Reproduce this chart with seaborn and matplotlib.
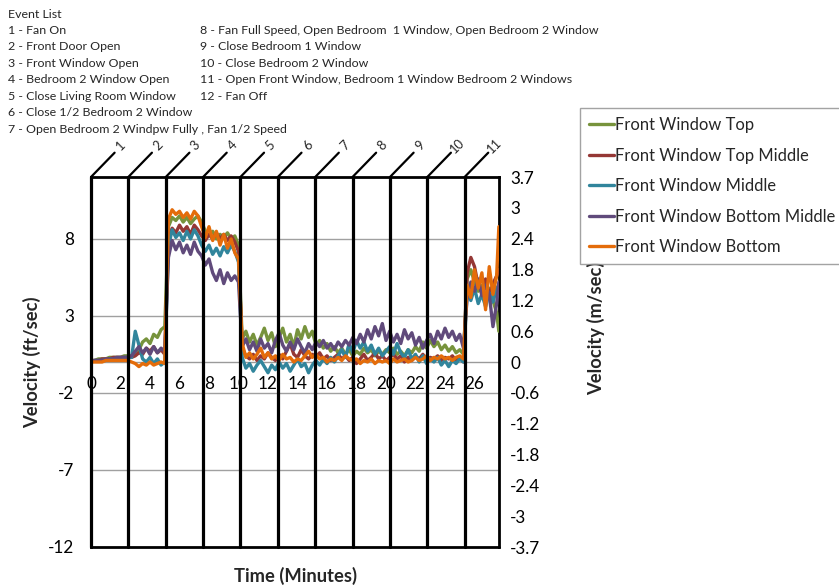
import numpy as np
import pandas as pd
import matplotlib
matplotlib.use("Agg")
import matplotlib.pyplot as plt
import seaborn as sns
from matplotlib.transforms import blended_transform_factory

# ---------------- data ----------------
minutes = list(np.round(np.arange(0, 27.51, 0.25), 2)) + [27.65]

front_top = [0.1,0.1,0.2,0.2,0.2,0.3,0.3,0.3,0.3,0.4,0.4,
             0.4,0.5,0.8,1.3,1.5,1.2,1.8,1.6,2.1,2.3,
             8.8,9.4,9.2,9.5,9.1,9.4,9.0,9.3,9.5,9.1,8.5,8.2,8.5,8.0,8.3,8.1,8.4,8.0,8.2,7.6,
             1.5,2.0,1.3,1.8,1.1,1.6,2.2,1.4,
             1.9,1.0,1.6,2.2,1.3,1.8,1.0,2.1,
             1.5,2.3,1.6,2.0,1.1,1.4,0.9,1.2,
             0.7,1.0,0.6,0.9,0.5,0.8,0.4,0.7,
             0.5,0.9,0.6,0.8,0.4,0.7,0.5,0.8,
             0.6,0.9,0.5,0.7,0.4,0.8,0.6,1.0,
             0.7,1.3,0.9,1.4,1.0,1.3,0.8,1.1,
             0.7,1.0,0.6,0.8,0.5,
             5.4,6.0,5.2,4.6,5.0,4.2,4.8,4.0,3.2,2.0]

front_top_middle = [0.1,0.1,0.1,0.2,0.2,0.2,0.3,0.3,0.3,0.3,0.3,
                    0.3,0.4,0.6,0.5,0.9,0.7,1.0,0.6,0.8,0.5,
                    8.0,8.7,8.4,8.9,8.5,8.8,8.3,8.9,8.6,8.2,7.9,8.3,8.0,8.4,8.0,8.3,7.9,8.2,7.8,7.2,
                    0.9,0.4,0.2,0.5,0.1,0.4,0.2,0.6,
                    0.3,0.1,0.5,0.2,0.7,1.2,0.5,0.3,
                    0.8,0.4,0.2,0.5,0.3,0.6,0.2,0.4,
                    0.1,0.3,0.5,0.2,0.4,0.1,0.3,-0.1,
                    0.2,0.5,0.1,0.3,0.6,0.2,0.4,0.1,
                    0.3,0.5,0.2,0.4,0.0,0.3,0.1,0.4,
                    0.2,0.5,0.1,0.3,0.2,0.4,0.1,0.3,
                    0.2,0.4,0.1,0.3,0.0,
                    5.8,6.8,6.2,5.0,4.6,5.4,4.3,5.1,5.6,6.0]

front_middle = [0.0,0.1,0.1,0.1,0.1,0.2,0.2,0.2,0.2,0.3,0.3,
                0.3,2.0,1.1,0.2,0.0,0.3,-0.1,0.2,-0.2,0.0,
                7.5,8.6,8.1,8.4,7.9,8.5,8.0,8.6,8.2,7.6,7.2,7.6,7.0,7.4,6.9,7.5,7.1,7.6,7.2,6.5,
                0.3,-0.4,-0.1,-0.6,-0.2,0.1,-0.3,-0.7,
                -0.2,-0.5,0.0,-0.4,-0.1,-0.6,-0.2,0.2,
                -0.3,-0.1,-0.7,-0.2,0.1,-0.2,0.2,-0.1,
                0.3,0.0,0.4,0.8,0.3,1.2,0.6,1.4,
                0.9,1.3,0.7,1.1,0.5,0.9,0.4,0.7,
                1.0,0.5,1.2,0.6,0.3,0.8,0.2,0.5,
                0.0,0.4,-0.1,0.2,0.0,0.3,-0.2,0.1,
                -0.3,0.1,-0.1,0.2,0.0,
                4.6,4.0,4.8,3.8,4.4,3.6,4.5,3.9,4.8,5.0]

front_bottom_middle = [0.0,0.1,0.1,0.1,0.2,0.2,0.2,0.3,0.3,0.3,0.3,
                       0.4,0.7,1.0,0.6,0.9,0.5,1.0,0.6,0.9,0.7,
                       6.8,7.9,7.3,7.8,7.1,7.6,7.0,7.8,7.2,6.9,6.3,6.7,5.8,5.3,6.0,5.1,5.8,5.3,5.6,5.2,
                       1.0,1.5,0.8,1.3,0.7,1.5,0.9,1.2,
                       0.6,1.4,1.9,1.1,0.7,1.3,0.8,1.5,
                       1.0,0.6,1.2,0.8,1.3,1.0,1.4,0.9,
                       1.2,0.8,1.3,1.0,1.4,1.1,1.6,1.2,
                       1.8,1.3,2.1,1.5,2.3,1.7,2.5,1.4,
                       2.0,1.3,1.8,1.2,2.1,1.5,1.9,1.1,
                       1.6,0.9,1.4,1.8,1.2,2.0,1.5,2.2,
                       1.6,2.0,1.4,1.8,0.9,
                       4.2,5.2,4.6,5.4,4.3,5.0,4.4,2.3,3.8,5.2]

front_bottom = [0.0,0.0,0.0,0.0,0.1,0.1,0.1,0.1,0.1,0.1,0.1,
                0.0,-0.1,-0.3,-0.1,-0.2,0.0,-0.2,-0.1,0.0,-0.1,
                9.3,9.9,9.6,9.8,9.4,9.7,9.3,9.8,9.5,8.8,8.1,8.8,7.9,8.5,7.6,8.3,7.4,8.0,7.1,6.7,
                1.2,0.3,0.6,0.2,0.5,0.9,0.3,0.6,
                0.2,0.4,0.1,0.5,0.2,0.3,0.0,0.2,
                0.1,0.4,0.7,0.3,0.5,0.2,0.3,0.0,
                0.2,0.1,0.3,0.1,0.4,0.2,0.1,0.2,
                -0.1,0.1,0.0,0.2,-0.1,0.1,0.0,0.1,
                -0.1,0.2,0.0,0.1,0.2,0.0,0.1,0.3,
                0.1,0.2,0.4,0.1,0.3,0.2,0.4,0.2,
                0.3,0.1,0.3,0.4,0.2,
                5.0,4.2,6.0,4.8,5.8,3.4,6.2,4.4,5.6,8.8]

series_names = ["Front Window Top", "Front Window Top Middle", "Front Window Middle",
                "Front Window Bottom Middle", "Front Window Bottom"]
series_values = [front_top, front_top_middle, front_middle, front_bottom_middle, front_bottom]
series_colors = ["#77933C", "#953735", "#31859C", "#604A7B", "#E46C0A"]

event_times = [0, 2.53, 5.07, 7.6, 10.13, 12.67, 15.2, 17.73, 20.27, 22.8, 25.33]
event_labels = ["1", "2", "3", "4", "5", "6", "7", "8", "9", "10", "11"]

x_ticks = [0, 2, 4, 6, 8, 10, 12, 14, 16, 18, 20, 22, 24, 26]
left_ticks = [-12, -7, -2, 3, 8]
right_tick_labels = ["-3.7", "-3", "-2.4", "-1.8", "-1.2", "-0.6", "0",
                     "0.6", "1.2", "1.8", "2.4", "3", "3.7"]

event_list_col1 = ["1 - Fan On", "2 - Front Door Open", "3 - Front Window Open",
                   "4 - Bedroom 2 Window Open", "5 - Close Living Room Window",
                   "6 - Close 1/2 Bedroom 2 Window",
                   "7 - Open Bedroom 2 Windpw Fully , Fan 1/2 Speed"]
event_list_col2 = ["8 - Fan Full Speed, Open Bedroom  1 Window, Open Bedroom 2 Window",
                   "9 - Close Bedroom 1 Window", "10 - Close Bedroom 2 Window",
                   "11 - Open Front Window, Bedroom 1 Window Bedroom 2 Windows",
                   "12 - Fan Off"]

for s in series_values:
    assert len(s) == len(minutes), len(s)

df = pd.concat([pd.DataFrame({"Time": minutes, "Velocity": v, "Series": n})
                for n, v in zip(series_names, series_values)], ignore_index=True)

# ---------------- figure ----------------
sns.set_theme(style="white")
plt.rcParams["font.family"] = ["Lato", "DejaVu Sans"]

W, H = 839, 586
fig = plt.figure(figsize=(W / 100, H / 100), dpi=100)
L, R, T, B = 91, 499, 177, 547
ax = fig.add_axes([L / W, 1 - B / H, (R - L) / W, (B - T) / H])

sns.lineplot(data=df, x="Time", y="Velocity", hue="Series", hue_order=series_names,
             palette=series_colors, linewidth=2.4, legend=False, ax=ax,
             estimator=None, sort=False, zorder=3)

line_handles = list(ax.lines[:5])

ax.set_xlim(0, 27.66)
ax.set_ylim(-12.03, 12.03)

# horizontal gridlines
ax.set_yticks(left_ticks)
ax.set_yticklabels([str(t) for t in left_ticks])
for yv in left_ticks[1:]:
    ax.axhline(yv, color="#A0A0A0", lw=1.0, zorder=1)

# x axis at zero
ax.spines["bottom"].set_position(("data", 0))
ax.spines["bottom"].set_color("#9A9A9A")
ax.spines["bottom"].set_linewidth(1.0)
ax.spines["bottom"].set_zorder(1)
ax.set_xticks(x_ticks)
ax.set_xticklabels([str(t) for t in x_ticks])
ax.tick_params(axis="x", direction="out", length=4, width=1, color="#9A9A9A",
               labelsize=12.3, pad=6, labelcolor="black")
ax.tick_params(axis="y", length=0, labelsize=12.3, pad=12, labelcolor="black")

for sp in ["top", "right", "left"]:
    ax.spines[sp].set_color("black")
    ax.spines[sp].set_linewidth(2.0)
ax.plot([0, 1], [0, 0], transform=ax.transAxes, color="black", lw=2.0,
        clip_on=False, zorder=5)

# event lines and labels
trans = blended_transform_factory(ax.transData, ax.transAxes)
for e, lab in zip(event_times, event_labels):
    ax.axvline(e, color="black", lw=2.3, zorder=6, clip_on=False)
    ax.annotate("", xy=(e, 1), xycoords=trans, xytext=(17, 17.5),
                textcoords="offset points",
                arrowprops=dict(arrowstyle="-", color="black", lw=1.6,
                                shrinkA=0, shrinkB=0), annotation_clip=False)
    ax.annotate(lab, xy=(e, 1), xycoords=trans, xytext=(21.5, 22.5),
                textcoords="offset points", rotation=45, ha="center", va="center",
                fontsize=9.3, annotation_clip=False)

ax.set_xlabel("Time (Minutes)", fontsize=13.2, fontweight="bold")
ax.xaxis.set_label_coords(0.5, -0.055)
ax.set_ylabel("Velocity (ft/sec)", fontsize=13.2, fontweight="bold")
ax.yaxis.set_label_coords(-0.122, 0.5)

# right axis (m/sec)
ax2 = ax.twinx()
ax2.set_ylim(-3.7, 3.7)
ax2.set_yticks(np.linspace(-3.7, 3.7, 13))
ax2.set_yticklabels(right_tick_labels)
ax2.tick_params(axis="y", length=0, labelsize=12.3, pad=8, labelcolor="black")
for sp in ax2.spines.values():
    sp.set_visible(False)
ax2.grid(False)
ax2.set_ylabel("Velocity (m/sec)", fontsize=13.2, fontweight="bold")
ax2.yaxis.set_label_coords(1.215, 0.59)

# legend
leg = fig.legend(line_handles, series_names, loc="upper left",
                 bbox_to_anchor=(580 / W, 1 - 108 / H), borderaxespad=0,
                 fontsize=11.9, frameon=True, fancybox=False, edgecolor="#8C8C8C",
                 handlelength=1.5, handletextpad=0.05, labelspacing=0.88,
                 borderpad=0.55)
leg.get_frame().set_linewidth(1.0)
for lh in leg.get_lines():
    lh.set_linewidth(2.4)

# event list text
fs = 8.9
fig.text(8 / W, 1 - 14 / H, "Event List", fontsize=fs, va="center", ha="left")
for i, t in enumerate(event_list_col1):
    fig.text(8 / W, 1 - (30 + i * 16.6) / H, t, fontsize=fs, va="center", ha="left")
for i, t in enumerate(event_list_col2):
    fig.text(200 / W, 1 - (30 + i * 16.6) / H, t, fontsize=fs, va="center", ha="left")

fig.savefig("out.png", dpi=100)
